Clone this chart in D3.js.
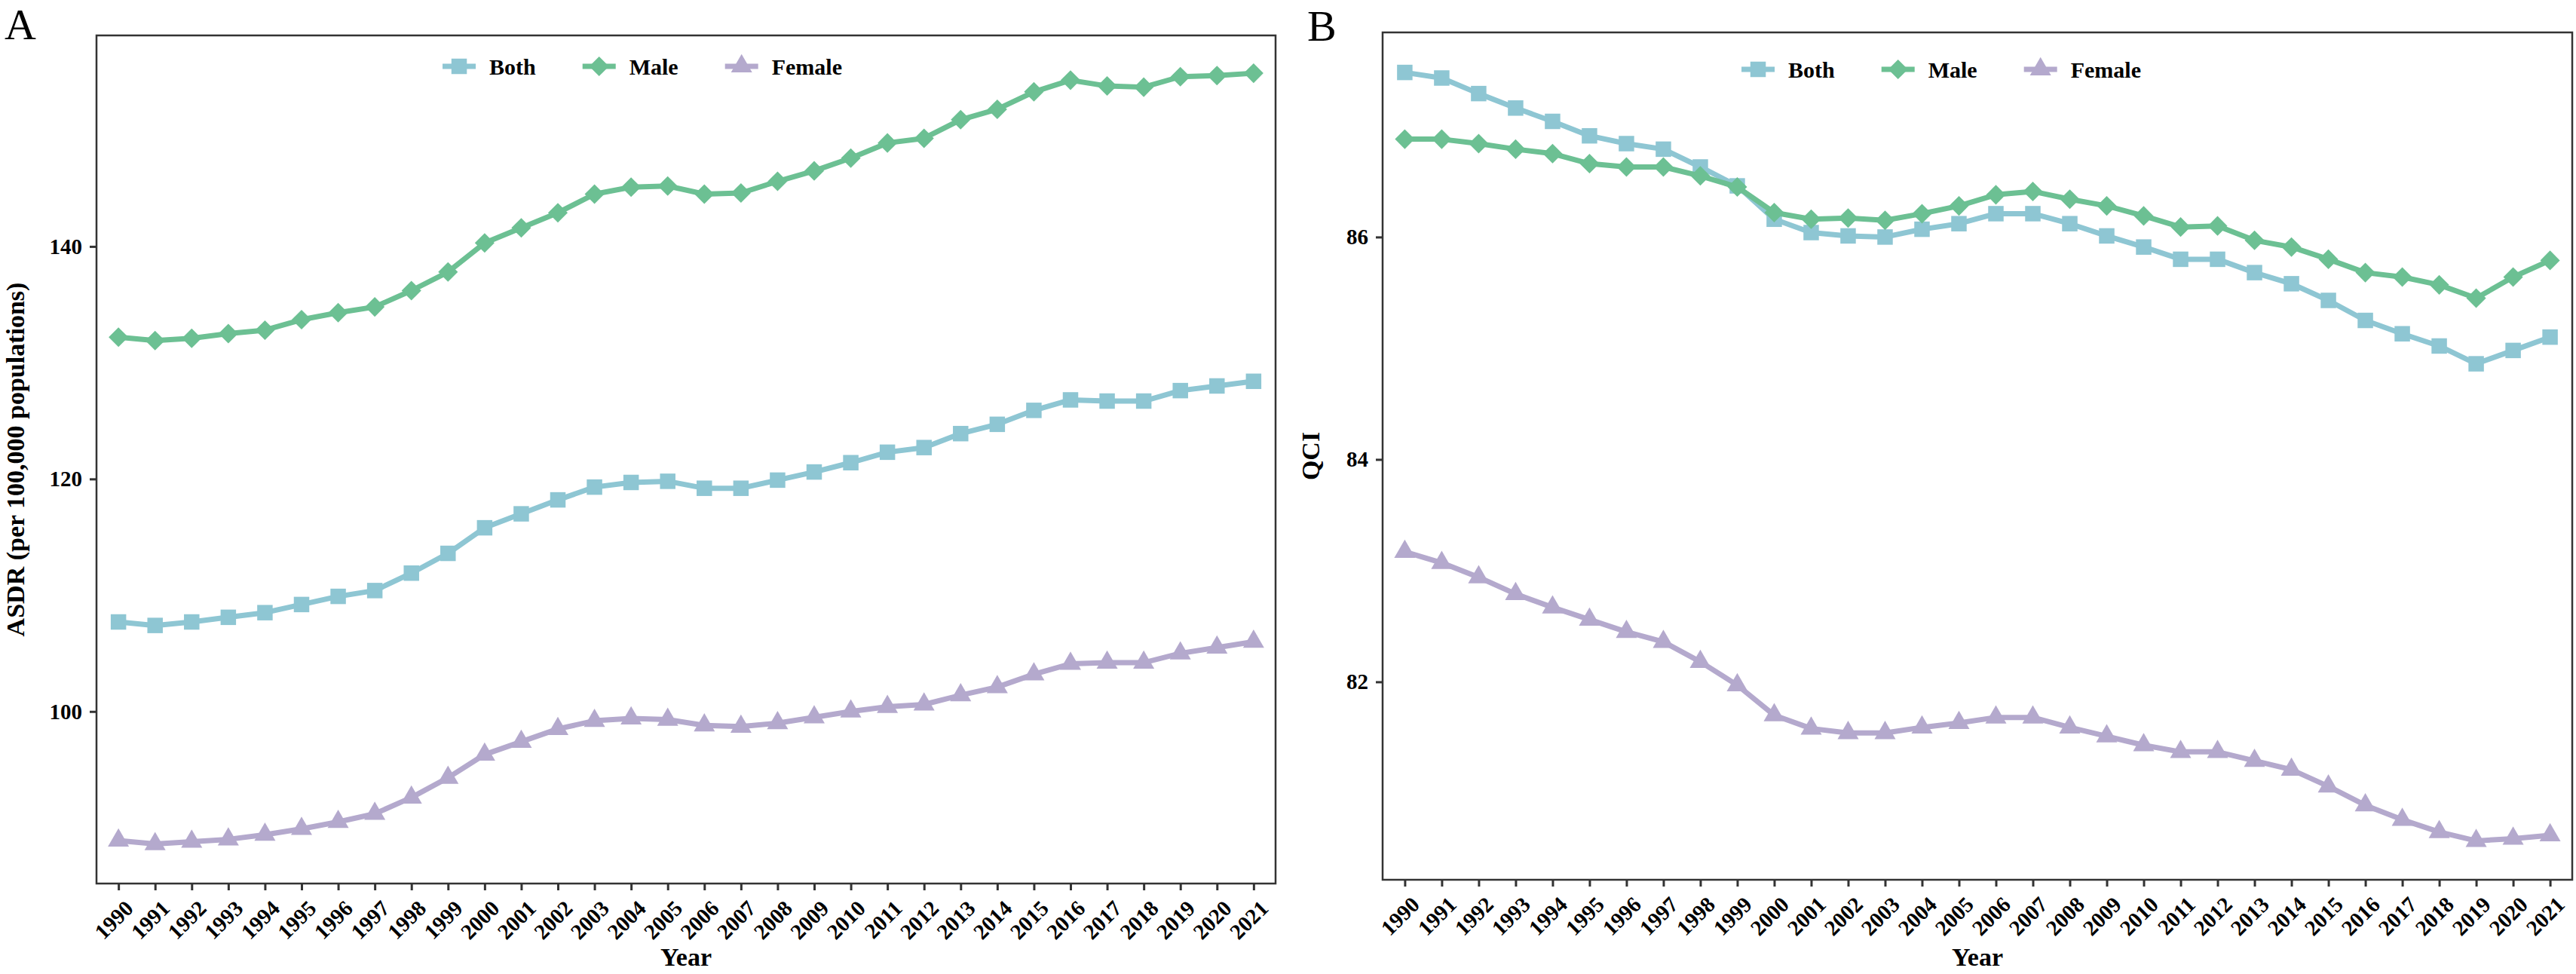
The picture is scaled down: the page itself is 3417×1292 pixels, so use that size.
<!DOCTYPE html>
<html>
<head>
<meta charset="utf-8">
<script src="https://cdn.jsdelivr.net/npm/d3@7"></script>
<style>
  body { margin: 0; background: #fff; }
  text { font-family: "Liberation Serif", "Times New Roman", serif; }
</style>
</head>
<body>
<svg id="fig" width="3417" height="1292"></svg>
<script>

// years on the x axis
const years = [1990, 1991, 1992, 1993, 1994, 1995, 1996, 1997, 1998, 1999,
  2000, 2001, 2002, 2003, 2004, 2005, 2006, 2007, 2008, 2009,
  2010, 2011, 2012, 2013, 2014, 2015, 2016, 2017, 2018, 2019, 2020, 2021];

const seriesNames = ["Both", "Male", "Female"];

// panel A : ASDR (per 100,000)
const asdrBoth = [107.7, 107.4, 107.7, 108.1, 108.5, 109.2, 109.9, 110.4, 111.9, 113.6,
  115.8, 117.0, 118.2, 119.3, 119.7, 119.8, 119.2, 119.2, 119.9, 120.6,
  121.4, 122.3, 122.7, 123.9, 124.7, 125.9, 126.8, 126.7, 126.7, 127.6, 128.0, 128.4];
const asdrMale = [132.2, 131.9, 132.1, 132.5, 132.8, 133.7, 134.3, 134.8, 136.2, 137.8,
  140.3, 141.6, 142.9, 144.5, 145.1, 145.2, 144.5, 144.6, 145.6, 146.5,
  147.6, 148.9, 149.3, 150.9, 151.8, 153.3, 154.3, 153.8, 153.7, 154.6, 154.7, 154.9];
const asdrFemale = [88.9, 88.6, 88.8, 89.0, 89.4, 89.9, 90.5, 91.2, 92.6, 94.3,
  96.3, 97.4, 98.5, 99.2, 99.4, 99.3, 98.8, 98.7, 99.0, 99.5,
  100.0, 100.4, 100.6, 101.4, 102.1, 103.2, 104.1, 104.2, 104.2, 105.0, 105.5, 106.0];
const asdrTicks = [100, 120, 140];

// panel B : QCI
const qciBoth = [87.48, 87.43, 87.29, 87.16, 87.04, 86.91, 86.84, 86.79, 86.63, 86.46,
  86.16, 86.04, 86.01, 86.00, 86.07, 86.12, 86.21, 86.21, 86.12, 86.01,
  85.91, 85.80, 85.80, 85.68, 85.58, 85.43, 85.25, 85.13, 85.02, 84.86, 84.98, 85.10];
const qciMale = [86.88, 86.88, 86.84, 86.79, 86.75, 86.66, 86.63, 86.63, 86.55, 86.45,
  86.22, 86.16, 86.17, 86.15, 86.21, 86.28, 86.38, 86.41, 86.34, 86.28,
  86.19, 86.09, 86.10, 85.97, 85.91, 85.80, 85.68, 85.64, 85.57, 85.45, 85.64, 85.79];
const qciFemale = [83.17, 83.07, 82.94, 82.79, 82.67, 82.56, 82.45, 82.36, 82.18, 81.97,
  81.70, 81.58, 81.54, 81.54, 81.59, 81.63, 81.68, 81.68, 81.59, 81.51,
  81.43, 81.37, 81.37, 81.29, 81.21, 81.06, 80.89, 80.76, 80.65, 80.57, 80.59, 80.62];
const qciTicks = [82, 84, 86];

// colours and marker shapes for the 3 series
const colors = {Both: "#8ec6d3", Male: "#6cc093", Female: "#b4a9cd"};
// Male uses a square turned 45 degrees (ggplot filled diamond)
const shapes = {Both: d3.symbolSquare, Male: d3.symbolSquare, Female: d3.symbolTriangle};
const sizes = {Both: 420, Male: 340, Female: 340};
const turn = {Both: 0, Male: 45, Female: 0};

const svg = d3.select("#fig");

function drawPanel(p) {
  const g = svg.append("g");

  // x: discrete years, ggplot style padding
  const x = d3.scalePoint()
    .domain(years)
    .range([p.left, p.right])
    .padding(0.6);

  const y = d3.scaleLinear()
    .domain(p.domain)
    .range([p.bottom, p.top]);

  // lines + markers
  seriesNames.forEach(function(name) {
    const vals = p.values[name];
    const line = d3.line()
      .x((d, i) => x(years[i]))
      .y(d => y(d));

    g.append("path")
      .datum(vals)
      .attr("fill", "none")
      .attr("stroke", colors[name])
      .attr("stroke-width", 7)
      .attr("stroke-linejoin", "round")
      .attr("d", line);

    g.selectAll(".pt-" + name)
      .data(vals)
      .enter()
      .append("path")
        .attr("class", "pt-" + name)
        .attr("transform", (d, i) => `translate(${x(years[i])},${y(d)}) rotate(${turn[name]})`)
        .attr("d", d3.symbol().type(shapes[name]).size(sizes[name]))
        .attr("fill", colors[name]);
  });

  // x axis
  const xAxis = g.append("g")
    .attr("transform", `translate(0,${p.bottom})`)
    .call(d3.axisBottom(x).tickSize(9).tickSizeOuter(0));
  xAxis.select(".domain").remove();
  xAxis.selectAll(".tick line").attr("stroke", "#333").attr("stroke-width", 3);
  xAxis.selectAll(".tick text")
    .attr("font-size", 29)
    .attr("font-weight", "bold")
    .attr("fill", "#000")
    .attr("text-anchor", "end")
    .attr("y", 0)
    .attr("dy", "0.72em")
    .attr("transform", "translate(6,20) rotate(-45)");

  // y axis
  const yAxis = g.append("g")
    .attr("transform", `translate(${p.left},0)`)
    .call(d3.axisLeft(y).tickValues(p.ticks).tickSize(9).tickPadding(10));
  yAxis.select(".domain").remove();
  yAxis.selectAll(".tick line").attr("stroke", "#333").attr("stroke-width", 3);
  yAxis.selectAll(".tick text")
    .attr("font-size", 29)
    .attr("font-weight", "bold")
    .attr("fill", "#000");

  // frame
  g.append("rect")
    .attr("x", p.left)
    .attr("y", p.top)
    .attr("width", p.right - p.left)
    .attr("height", p.bottom - p.top)
    .attr("fill", "none")
    .attr("stroke", "#333")
    .attr("stroke-width", 2.5);

  // axis titles
  g.append("text")
    .attr("x", (p.left + p.right) / 2)
    .attr("y", 1281)
    .attr("text-anchor", "middle")
    .attr("font-size", 34)
    .attr("font-weight", "bold")
    .text("Year");

  g.append("text")
    .attr("transform", `translate(${p.ytitleX},${(p.top + p.bottom) / 2}) rotate(-90)`)
    .attr("text-anchor", "middle")
    .attr("font-size", 34)
    .attr("font-weight", "bold")
    .text(p.ytitle);

  // panel letter
  g.append("text")
    .attr("x", p.letterX)
    .attr("y", p.letterY)
    .attr("font-size", 58)
    .text(p.letter);

  // legend across the top, centred on the panel
  const leg = g.append("g");
  let cx = 0;
  seriesNames.forEach(function(name, k) {
    leg.append("line")
      .attr("x1", cx).attr("x2", cx + 44)
      .attr("y1", 0).attr("y2", 0)
      .attr("stroke", colors[name])
      .attr("stroke-width", 7);
    leg.append("path")
      .attr("transform", `translate(${cx + 22},0) rotate(${turn[name]})`)
      .attr("d", d3.symbol().type(shapes[name]).size(sizes[name]))
      .attr("fill", colors[name]);
    const t = leg.append("text")
      .attr("x", cx + 62)
      .attr("y", 0)
      .attr("dy", "0.35em")
      .attr("font-size", 30)
      .attr("font-weight", "bold")
      .text(name);
    cx += 62 + t.node().getComputedTextLength();
    if (k < seriesNames.length - 1) cx += 62;
  });
  leg.attr("transform", `translate(${p.legendCenter - cx / 2},${p.legendY})`);
}

drawPanel({
  left: 128, right: 1692, top: 47, bottom: 1172,
  domain: [85.2, 158.15],
  ticks: asdrTicks,
  values: {Both: asdrBoth, Male: asdrMale, Female: asdrFemale},
  ytitle: "ASDR (per 100,000 populations)", ytitleX: 32,
  letter: "A", letterX: 6, letterY: 52,
  legendCenter: 852, legendY: 88
});

drawPanel({
  left: 1834, right: 3412, top: 43, bottom: 1167,
  domain: [80.22, 87.84],
  ticks: qciTicks,
  values: {Both: qciBoth, Male: qciMale, Female: qciFemale},
  ytitle: "QCI", ytitleX: 1750,
  letter: "B", letterX: 1734, letterY: 54,
  legendCenter: 2575, legendY: 92
});

</script>
</body>
</html>
